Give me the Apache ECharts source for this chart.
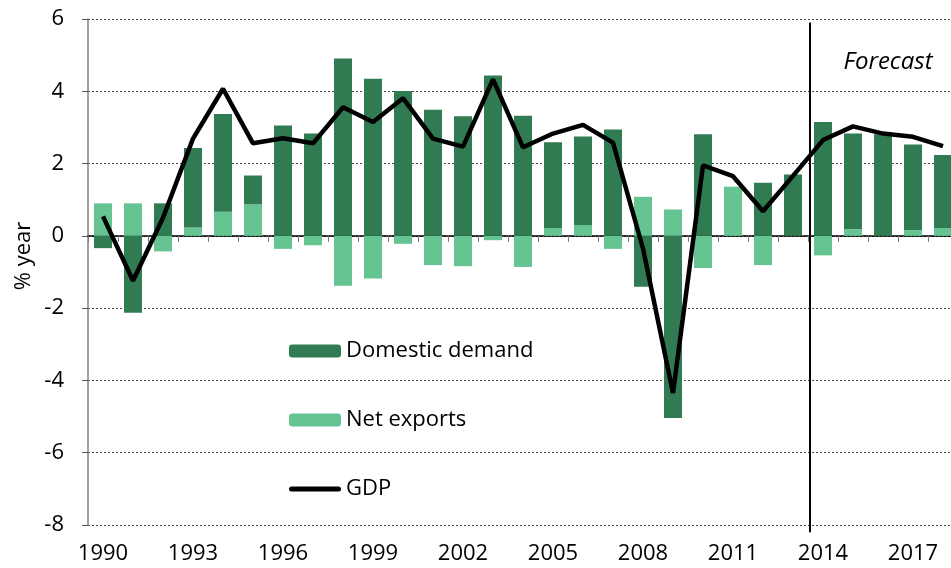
<!DOCTYPE html>
<html>
<head>
<meta charset="utf-8">
<script src="https://cdn.jsdelivr.net/npm/echarts@6/dist/echarts.min.js"></script>
<style>
  html, body { margin: 0; padding: 0; background: #fff; }
  #main { width: 951px; height: 568px; }
</style>
</head>
<body>
<div id="main"></div>
<script>
// 年份
const years = ['1990', '1991', '1992', '1993', '1994', '1995', '1996', '1997', '1998', '1999',
  '2000', '2001', '2002', '2003', '2004', '2005', '2006', '2007', '2008', '2009',
  '2010', '2011', '2012', '2013', '2014', '2015', '2016', '2017', '2018']
// 内需
const domesticDemand = [-0.34, -2.13, 0.9, 2.2, 2.7, 0.8, 3.05, 2.83, 4.91, 4.35,
  4.01, 3.49, 3.31, 4.44, 3.32, 2.37, 2.45, 2.94, -1.41, -5.04,
  2.81, 0, 1.47, 1.7, 3.15, 2.65, 2.81, 2.37, 2.02]
// 净出口
const netExports = [0.9, 0.9, -0.43, 0.23, 0.67, 0.87, -0.36, -0.26, -1.38, -1.18,
  -0.22, -0.81, -0.84, -0.12, -0.86, 0.22, 0.3, -0.36, 1.08, 0.73,
  -0.89, 1.36, -0.81, 0, -0.54, 0.18, 0, 0.16, 0.22]
// GDP
const gdp = [0.54, -1.24, 0.5, 2.69, 4.07, 2.56, 2.7, 2.56, 3.56, 3.15,
  3.81, 2.69, 2.47, 4.33, 2.45, 2.83, 3.07, 2.58, -0.35, -4.35,
  1.95, 1.65, 0.68, 1.66, 2.65, 3.03, 2.83, 2.74, 2.48]
const forecastStart = '2014'

const font = 'Open Sans'
const darkGreen = '#317b53'
const lightGreen = '#66c492'

const myChart = echarts.init(document.getElementById('main'))
const option = {
  animation: false,
  textStyle: { fontFamily: font },
  // 图表右侧被截断，最后一根柱子只显示一部分
  grid: { left: 88, width: 870, top: 19, bottom: 43, outerBoundsMode: 'none' },
  legend: {
    orient: 'vertical',
    left: 284,
    top: 334,
    itemWidth: 52,
    itemHeight: 13,
    itemGap: 45,
    data: [
      'Domestic demand',
      'Net exports',
      {
        name: 'GDP',
        icon: 'path://M2.5,0 H49.5 A2.5,2.5 0 0 1 49.5,5 H2.5 A2.5,2.5 0 0 1 2.5,0 Z'
      }
    ],
    symbolKeepAspect: true,
    textStyle: { fontFamily: font, fontSize: 22, color: '#000', lineHeight: 24 }
  },
  xAxis: [
    {
      type: 'category',
      data: years,
      position: 'bottom',
      axisLine: { onZero: true, lineStyle: { color: '#000', width: 1.5 } },
      axisTick: { show: true, interval: 0, length: 6, lineStyle: { color: '#777' } },
      axisLabel: { show: false },
      splitLine: { show: false }
    },
    {
      type: 'category',
      data: years,
      position: 'bottom',
      axisLine: { show: false, onZero: false },
      axisTick: { show: false },
      axisLabel: { interval: 2, margin: 18, fontSize: 22, color: '#000', fontFamily: font },
      splitLine: { show: false }
    }
  ],
  yAxis: {
    type: 'value',
    min: -8,
    max: 6,
    interval: 2,
    axisLine: { show: true, lineStyle: { color: '#808080', width: 1.5 } },
    axisTick: { show: true, length: 6, lineStyle: { color: '#555' } },
    axisLabel: { margin: 24, fontSize: 22, color: '#000', fontFamily: font },
    splitLine: { lineStyle: { color: '#444', type: [2, 2], width: 1 } }
  },
  series: [
    {
      name: 'Net exports',
      type: 'bar',
      stack: 'total',
      barWidth: 18,
      data: netExports,
      itemStyle: { color: lightGreen }
    },
    {
      name: 'Domestic demand',
      type: 'bar',
      stack: 'total',
      barWidth: 18,
      data: domesticDemand,
      itemStyle: { color: darkGreen }
    },
    {
      name: 'GDP',
      type: 'line',
      data: gdp,
      symbol: 'none',
      lineStyle: { color: '#000', width: 4.5 },
      itemStyle: { color: '#000' },
      z: 5
    }
  ]
}
myChart.setOption(option)

// 预测分界线
const idx = years.indexOf(forecastStart)
const xa = myChart.convertToPixel({ xAxisIndex: 0 }, years[idx - 1])
const xb = myChart.convertToPixel({ xAxisIndex: 0 }, years[idx])
const xLine = (xa + xb) / 2 + 2
const yTop = myChart.convertToPixel({ yAxisIndex: 0 }, 5.9)
const yBot = myChart.convertToPixel({ yAxisIndex: 0 }, -8.2)
myChart.setOption({
  graphic: [
    {
      type: 'line',
      shape: { x1: xLine, y1: yTop, x2: xLine, y2: yBot },
      style: { stroke: '#000', lineWidth: 2 },
      z: 10
    },
    {
      type: 'text',
      x: 888,
      y: 62,
      style: {
        text: 'Forecast',
        font: 'italic 24px "Open Sans"',
        fill: '#000',
        align: 'center',
        verticalAlign: 'middle'
      }
    },
    {
      type: 'text',
      x: 24,
      y: 256,
      rotation: Math.PI / 2,
      style: {
        text: '% year',
        font: '22px "Open Sans"',
        fill: '#000',
        align: 'center',
        verticalAlign: 'middle'
      }
    }
  ]
})
</script>
</body>
</html>
